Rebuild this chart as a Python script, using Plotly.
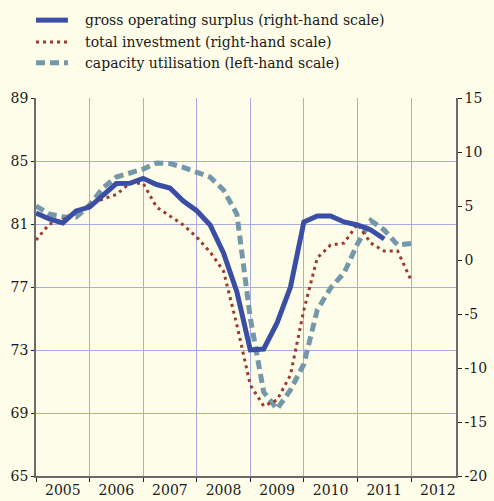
import plotly.graph_objects as go

# Quarterly observations, 2005Q1 onwards
quarters = [f"{y}Q{q}" for y in range(2005, 2013) for q in range(1, 5)]

# Gross operating surplus, % change (right-hand scale)
gross_operating_surplus = [4.35, 3.8, 3.43, 4.54, 4.9, 6.0, 7.08, 7.1, 7.56, 6.99,
                           6.67, 5.46, 4.56, 3.24, 0.65, -2.96, -8.33, -8.24, -5.83,
                           -2.5, 3.52, 4.07, 4.07, 3.52, 3.24, 2.78, 1.94]
# Total investment, % change (right-hand scale)
total_investment = [1.85, 3.33, 3.7, 4.44, 5.09, 5.65, 6.06, 7.1, 7.1, 4.9,
                    4.07, 3.24, 2.13, 0.74, -1.02, -6.02, -11.57, -13.52, -12.96,
                    -10.65, -4.63, 0.19, 1.39, 1.57, 3.33, 1.57, 0.83, 0.83, -1.85]
# Capacity utilisation, % (left-hand scale)
capacity_utilisation = [82.14, 81.63, 81.46, 81.44, 82.2, 83.29, 83.98, 84.2, 84.49,
                        84.87, 84.84, 84.6, 84.3, 83.98, 83.16, 81.63, 75.03, 70.33,
                        69.25, 70.46, 72.11, 75.54, 76.94, 77.89, 79.73, 81.22, 80.62,
                        79.67, 79.76]

years = list(range(2005, 2013))
left_ticks = [65, 69, 73, 77, 81, 85, 89]
right_ticks = [-20, -15, -10, -5, 0, 5, 10, 15]


def to_time(labels):
    """Quarter label -> fractional year at the start of the quarter."""
    return [int(s[:4]) + (int(s[-1]) - 1) / 4 for s in labels]


BLUE = "#3a4ea6"
RED = "#9c3a2e"
GREY_BLUE = "#7597aa"
GRID = "#aaaae6"
AXIS = "#6a6a6a"
BG = "#fefde9"
FONT = "DejaVu Serif"

fig = go.Figure()

fig.add_trace(go.Scatter(
    x=to_time(quarters[:len(capacity_utilisation)]), y=capacity_utilisation,
    mode="lines", name="capacity utilisation (left-hand scale)",
    line=dict(color=GREY_BLUE, width=5, dash="9px,5px"), yaxis="y"))
fig.add_trace(go.Scatter(
    x=to_time(quarters[:len(total_investment)]), y=total_investment,
    mode="lines", name="total investment (right-hand scale)",
    line=dict(color=RED, width=3, dash="3px,4px"), yaxis="y2"))
fig.add_trace(go.Scatter(
    x=to_time(quarters[:len(gross_operating_surplus)]), y=gross_operating_surplus,
    mode="lines", name="gross operating surplus (right-hand scale)",
    line=dict(color=BLUE, width=5), yaxis="y2"))

# Hand-drawn legend block above the plot
legend_rows = [
    ("gross operating surplus (right-hand scale)", BLUE, 5, "solid"),
    ("total investment (right-hand scale)", RED, 3, "3px,4px"),
    ("capacity utilisation (left-hand scale)", GREY_BLUE, 5, "9px,5px"),
]
row_y = [1.206, 1.148, 1.093]
for (label, color, width, dash), yy in zip(legend_rows, row_y):
    fig.add_shape(type="line", xref="paper", yref="paper",
                  x0=0.0, x1=0.076, y0=yy, y1=yy,
                  line=dict(color=color, width=width, dash=dash))
    fig.add_annotation(text=label, xref="paper", yref="paper", x=0.112, y=yy,
                       xanchor="left", yanchor="middle", showarrow=False,
                       font=dict(family=FONT, size=14, color="#1a1a1a"))

fig.update_layout(
    width=494, height=501,
    margin=dict(l=36, r=38, t=98, b=25),
    paper_bgcolor=BG, plot_bgcolor=BG,
    showlegend=False,
    font=dict(family=FONT, size=14, color="#1a1a1a"),
    xaxis=dict(
        range=[2005, 2012.84], automargin=False,
        tickmode="array", tickvals=[y + 0.5 for y in years],
        ticktext=[str(y) for y in years],
        ticks="", showgrid=False, zeroline=False,
        showline=True, linecolor=AXIS, linewidth=1.5,
        minor=dict(tickmode="array", tickvals=years, ticks="outside",
                   ticklen=4, tickcolor="#222", showgrid=True,
                   gridcolor=GRID, gridwidth=1),
    ),
    yaxis=dict(
        range=[65, 89], tickmode="array", tickvals=left_ticks, automargin=False,
        showgrid=True, gridcolor=GRID, gridwidth=1, zeroline=False,
        showline=True, linecolor=AXIS, linewidth=1.5,
        ticks="outside", ticklen=3, tickcolor="#222",
    ),
    yaxis2=dict(
        range=[-20, 15], tickmode="array", tickvals=right_ticks,
        ticktext=[str(v) for v in right_ticks], automargin=False,
        overlaying="y", side="right", showgrid=False, zeroline=False,
        showline=True, linecolor=AXIS, linewidth=1.5,
        ticks="outside", ticklen=4, tickcolor="#222",
    ),
)

fig.write_html("out.html")
